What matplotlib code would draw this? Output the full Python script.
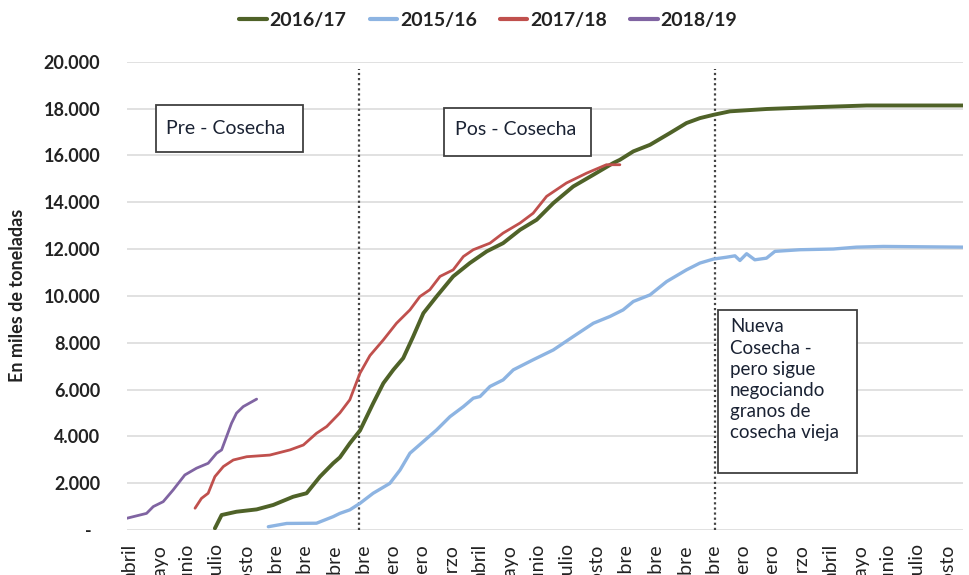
import matplotlib
matplotlib.use("Agg")
import matplotlib.pyplot as plt
from matplotlib.patches import Rectangle
from matplotlib.ticker import FuncFormatter, FixedLocator

plt.rcParams['font.family'] = ['Lato', 'DejaVu Sans']

# ---------------- data ----------------
months = ['abril', 'mayo', 'junio', 'julio', 'agosto', 'septiembre', 'octubre',
          'noviembre', 'diciembre', 'enero', 'febrero', 'marzo',
          'abril', 'mayo', 'junio', 'julio', 'agosto', 'septiembre', 'octubre',
          'noviembre', 'diciembre', 'enero', 'febrero', 'marzo',
          'abril', 'mayo', 'junio', 'julio', 'agosto']

# x positions are month index (0 = first "abril")
x_1617 = [2.91, 3.14, 3.65, 4.34, 4.91, 5.59, 6.05, 6.51, 6.96, 7.19, 7.53, 7.88,
          8.33, 8.68, 9.02, 9.36, 9.70, 10.05, 10.50, 11.07, 11.64, 12.22, 12.78,
          13.36, 13.93, 14.50, 15.18, 15.87, 16.55, 16.78, 17.24, 17.81, 18.49,
          19.06, 19.52, 19.98, 20.55, 21.80, 23.52, 25.23, 28.54]
y_1617 = [70, 640, 780, 880, 1070, 1420, 1570, 2280, 2850, 3100, 3700, 4250,
          5410, 6270, 6840, 7340, 8260, 9260, 9970, 10830, 11400, 11900, 12250,
          12820, 13250, 13960, 14670, 15170, 15670, 15810, 16170, 16450, 16950,
          17380, 17590, 17730, 17880, 17980, 18060, 18130, 18130]

x_1516 = [4.74, 5.37, 6.39, 6.96, 7.19, 7.53, 7.88, 8.33, 8.90, 9.25, 9.59, 10.05,
          10.50, 10.96, 11.42, 11.76, 11.99, 12.33, 12.78, 13.13, 13.81, 14.50,
          15.18, 15.87, 16.44, 16.89, 17.24, 17.81, 18.38, 19.06, 19.52, 19.98,
          20.43, 20.72, 20.89, 21.12, 21.40, 21.80, 22.09, 22.95, 24.09, 24.88,
          25.80, 28.54]
y_1516 = [140, 280, 290, 570, 710, 860, 1140, 1570, 1990, 2560, 3280, 3780,
          4270, 4840, 5270, 5630, 5700, 6130, 6410, 6840, 7270, 7690,
          8260, 8830, 9120, 9400, 9760, 10040, 10610, 11110, 11400, 11570,
          11650, 11710, 11510, 11800, 11540, 11610, 11900, 11970, 12000, 12080,
          12110, 12080]

x_1718 = [2.23, 2.45, 2.68, 2.91, 3.20, 3.54, 4.00, 4.79, 5.48, 5.94, 6.39, 6.74,
          7.19, 7.53, 7.88, 8.22, 8.68, 9.13, 9.59, 9.93, 10.27, 10.62, 11.07,
          11.42, 11.76, 12.33, 12.78, 13.36, 13.81, 14.27, 14.95, 15.64, 16.32,
          16.78]
y_1718 = [930, 1350, 1570, 2280, 2710, 2990, 3130, 3200, 3420, 3630, 4130, 4420,
          5000, 5560, 6700, 7450, 8120, 8830, 9400, 9970, 10260, 10830, 11110,
          11680, 11970, 12250, 12680, 13110, 13530, 14250, 14820, 15240, 15600,
          15600]

x_1819 = [-0.11, 0.57, 0.80, 1.14, 1.48, 1.88, 2.28, 2.68, 2.97, 3.14, 3.31,
          3.48, 3.65, 3.88, 4.34]
y_1819 = [500, 710, 1000, 1210, 1710, 2350, 2640, 2850, 3280, 3420, 3990,
          4560, 4990, 5270, 5590]

series = [
    ('2016/17', x_1617, y_1617, '#4F6228', 2.8),
    ('2015/16', x_1516, y_1516, '#8DB4E2', 2.4),
    ('2017/18', x_1718, y_1718, '#C0504D', 2.0),
    ('2018/19', x_1819, y_1819, '#8064A2', 2.0),
]

# ---------------- figure ----------------
fig = plt.figure(figsize=(9.69, 5.75), dpi=100)
ax = fig.add_axes([126.7 / 969, 1 - 530 / 575, (963 - 126.7) / 969, (530 - 61.7) / 575])

for name, xs, ys, col, lw in series:
    ax.plot(xs, ys, color=col, lw=lw, label=name, solid_joinstyle='round',
            solid_capstyle='round', zorder=3)

ax.set_xlim(-0.11, 28.53)
ax.set_ylim(0, 20000)

ax.yaxis.set_major_locator(FixedLocator(range(0, 20001, 2000)))
ax.yaxis.set_major_formatter(FuncFormatter(
    lambda v, p: '-  ' if v == 0 else f'{v:,.0f}'.replace(',', '.')))
ax.grid(axis='y', color='#d9d9d9', lw=1.1, zorder=0)
ax.set_axisbelow(True)

ax.set_xticks(range(len(months)))
ax.set_xticklabels(months, rotation=90, fontsize=14, color='#222222')
ax.tick_params(axis='x', length=0, pad=10.2)
ax.tick_params(axis='y', length=0, pad=19, labelsize=13)
for lab in ax.get_yticklabels():
    lab.set_fontweight('bold')
    lab.set_color('#222222')

for s in ax.spines.values():
    s.set_visible(False)

ax.set_ylabel('En miles de toneladas', fontsize=13, fontweight='bold',
              color='#222222')
ax.yaxis.set_label_coords(-0.12, 0.5)

# vertical dotted separators
for xv in (7.85, 20.03):
    ax.axvline(xv, ymin=0, ymax=0.985, color='#444444', lw=1.6,
               linestyle=(0, (1, 1.3)), zorder=2)

# annotation boxes
def box(x0, y0, w, h):
    ax.add_patch(Rectangle((x0, y0), w, h, transform=ax.transAxes,
                           facecolor='white', edgecolor='#404040', lw=1.3,
                           zorder=4))

txtcol = '#1a2233'
box(0.035, 0.807, 0.176, 0.100)
ax.text(0.047, 0.858, 'Pre - Cosecha', transform=ax.transAxes, fontsize=14,
        ha='left', va='center', color=txtcol, zorder=5)
box(0.379, 0.799, 0.176, 0.1025)
ax.text(0.393, 0.855, 'Pos - Cosecha', transform=ax.transAxes, fontsize=14,
        ha='left', va='center', color=txtcol, zorder=5)
box(0.707, 0.122, 0.166, 0.348)
ax.text(0.7215, 0.452,
        'Nueva\nCosecha -\npero sigue\nnegociando\ngranos de\ncosecha vieja',
        transform=ax.transAxes, fontsize=13.5, ha='left', va='top',
        color=txtcol, linespacing=1.3, zorder=5)

leg = fig.legend(loc='center', bbox_to_anchor=(0.504, 0.965), ncol=4,
                 frameon=False, handlelength=1.4, handletextpad=0.15,
                 columnspacing=1.2, prop={'weight': 'bold', 'size': 14})
for t in leg.get_texts():
    t.set_color('#222222')
for h in leg.legend_handles:
    h.set_linewidth(3)

fig.savefig('out.png', dpi=100)
